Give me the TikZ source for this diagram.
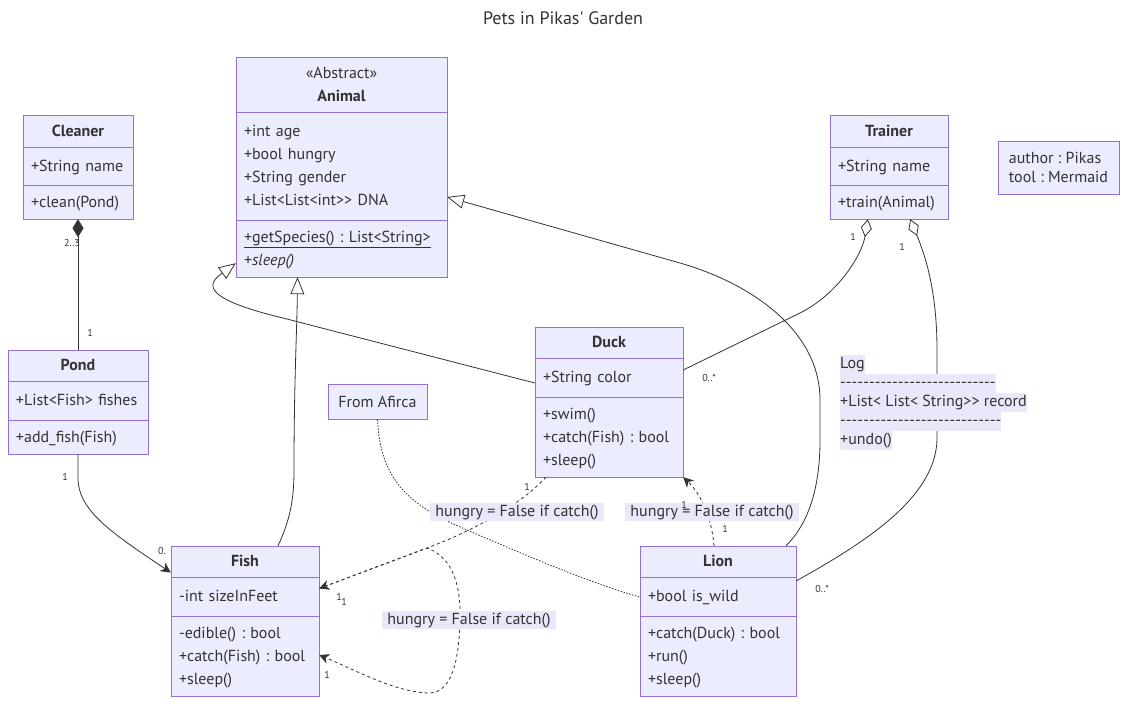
\documentclass[tikz,border=0pt]{standalone}
\usepackage{fontspec}
\setmainfont{PT Sans}
\usetikzlibrary{positioning,fit,arrows.meta}
\definecolor{boxfill}{HTML}{ECECFF}
\definecolor{boxline}{HTML}{9370DB}
\definecolor{ink}{HTML}{333333}
\definecolor{labelbg}{HTML}{E8E8FA}

\newcommand{\umlclass}[9]{%
  \node[part, title, minimum width=#3pt, text width=#3pt-16pt, minimum height=#5pt, anchor=north west] (#1-t) at (#2) {#4};
  \node[part, members, minimum width=#3pt, text width=#3pt-16pt, minimum height=#7pt, below=0pt of #1-t] (#1-a) {#6};
  \node[part, members, minimum width=#3pt, text width=#3pt-16pt, minimum height=#9pt, below=0pt of #1-a] (#1-m) {#8};
  \node[fit=(#1-t)(#1-m), inner sep=0pt] (#1) {};
}
\newcommand{\lb}[1]{\colorbox{labelbg}{\strut#1}}
\newcommand{\dashes}[1]{\foreach \i in {1,...,#1}{-{}}}
\setlength{\fboxsep}{0pt}
\frenchspacing

\begin{document}
\begin{tikzpicture}[x=1pt, y=-1pt, color=ink,
    part/.style={draw=boxline, fill=boxfill, line width=1pt, outer sep=0pt, inner xsep=8pt, inner ysep=0pt,
      font=\fontsize{16}{23}\selectfont,
      execute at begin node={\rule{0pt}{15.5pt}}, execute at end node={\rule[-5pt]{0pt}{0pt}}},
    title/.style={align=center},
    members/.style={align=left},
    card/.style={font=\fontsize{10}{12}\selectfont, inner sep=0pt},
    lbl/.style={fill=labelbg, inner xsep=5pt, inner ysep=1pt, text height=12pt, text depth=4pt, font=\fontsize{16}{19}\selectfont},
    note/.style={draw=boxline, fill=boxfill, line width=1pt, font=\fontsize{16}{19}\selectfont, align=left},
    rel/.style={draw=ink, line width=0.8pt},
    dep/.style={rel, dash pattern=on 3pt off 3pt},
    link/.style={rel, dash pattern=on 1.5pt off 1.5pt},
    assoc/.style={-{Stealth[length=10pt, width=10pt, inset=3pt]}},
    inherit/.style={-{Triangle[fill=white, length=17pt, width=14pt]}},
    compo/.style={{Diamond[length=18pt, width=11pt]}-},
    aggreg/.style={{Diamond[fill=white, length=18pt, width=11pt]}-}]
\fill[white] (0,0) rectangle (1127,704);
\useasboundingbox (0,0) rectangle (1127,704);

\node[font=\fontsize{18}{22}\selectfont] (heading) at (563,18) {Pets in Pikas\textquotesingle{} Garden};

\umlclass{cleaner}{23,115}{110}{\textbf{Cleaner}}{32}{+String name}{38}{+clean(Pond)}{34}
\umlclass{animal}{236,57}{211}{«Abstract»\\\textbf{Animal}}{55}%
  {+int age\\+bool hungry\\+String gender\\+List<List<int>{}> DNA}{108}%
  {\underline{+getSpecies() : List<String>}\\+\textit{sleep()}}{57}
\umlclass{trainer}{830,115}{118}{\textbf{Trainer}}{32}{+String name}{38}{+train(Animal)}{34}
\umlclass{pond}{8,350}{140}{\textbf{Pond}}{31}{+List<Fish> fishes}{39}{+add\_fish(Fish)}{34}
\umlclass{duck}{535,327}{148}{\textbf{Duck}}{31}{+String color}{39}{+swim()\\+catch(Fish) : bool\\+sleep()}{80}
\umlclass{fish}{171,546}{148}{\textbf{Fish}}{31}{-int sizeInFeet}{39}{-edible() : bool\\+catch(Fish) : bool\\+sleep()}{80}
\umlclass{lion}{640,546}{156}{\textbf{Lion}}{31}{+bool is\_wild}{39}{+catch(Duck) : bool\\+run()\\+sleep()}{80}

\node[note, minimum width=99pt, minimum height=35pt] (afirca) at (377.5,401.5) {From Afirca};
\node[note, minimum width=121pt, minimum height=53pt, inner xsep=8pt] (meta) at (1058.5,167.5) {author : Pikas\\tool : Mermaid};

\draw[rel, compo] (cleaner.south) -- (pond.north);
\draw[rel, assoc] (pond.south) -- (78,478) .. controls (78,510) and (110,532) .. ([yshift=48.5pt]fish.west);
\draw[rel, inherit] ([xshift=33pt]fish.north) .. controls (290,520) and (294,500) .. (294,470) .. controls (294,380) and (297,330) .. ([xshift=-44pt]animal.south);
\draw[rel, inherit] ([yshift=19pt]duck.west) -- (283,318) .. controls (195,297) and (210,282) .. ([yshift=14pt]animal.south west);
\draw[rel, inherit] ([xshift=68pt]lion.north) .. controls (812,520) and (820,480) .. (820,440) -- (820,400) .. controls (820,330) and (750,283) .. (680,263) -- ([yshift=-30pt]animal.east);
\draw[rel, aggreg] ([xshift=38pt]trainer.south west) .. controls (862,255) and (838,294) .. (800,313) -- ([yshift=32pt]duck.east);
\draw[rel, aggreg] ([xshift=-38pt]trainer.south east) .. controls (925,255) and (937,290) .. (937,350) -- (937,440) .. controls (935,500) and (860,545) .. ([yshift=40pt]lion.east);
\draw[dep, assoc] ([xshift=-63pt]duck.south) .. controls (520,505) and (475,530) .. (427,548) -- ([yshift=32.5pt]fish.east);
\draw[dep, assoc] ([yshift=32.5pt]fish.east) -- (427,548) .. controls (455,558) and (461,590) .. (460,620) .. controls (459,660) and (452,694) .. (428,693) .. controls (395,692) and (355,670) .. ([yshift=-34pt]fish.east);
\draw[dep, assoc] ([xshift=-4pt]lion.north) .. controls (712,520) and (702,495) .. (duck.south east);
\draw[link] (afirca.south) .. controls (380,480) and (410,505) .. (460,527) .. controls (530,557) and (590,583) .. ([yshift=24pt]lion.west);

\node[lbl] (catchDF) at (517,512) {hungry = False if catch()};
\node[lbl] (catchLD) at (712,512) {hungry = False if catch()};
\node[lbl] (catchFF) at (469,620) {hungry = False if catch()};
\node[inner sep=0pt, anchor=north west, align=left, font=\fontsize{16}{19}\selectfont] (log) at (840,355)
  {\lb{Log}\\\lb{\dashes{27}}\\\lb{+List< List< String>{}> record}\\\lb{\dashes{28}}\\\lb{+undo()}};

\foreach \n/\p/\t in {1/{72,243}/2..3, 2/{90,333}/1, 3/{65,477}/1, 4/{162,551}/0.,
    5/{853,237}/1, 6/{902,247}/1, 7/{709,378}/0..*, 8/{822,589}/0..*,
    9/{527,487}/1, 10/{339,597}/1, 11/{344,602}/1, 12/{327,675}/1,
    13/{684,505}/1, 14/{725,529}/1}
  \node[card] (card\n) at (\p) {\t};
\end{tikzpicture}
\end{document}
